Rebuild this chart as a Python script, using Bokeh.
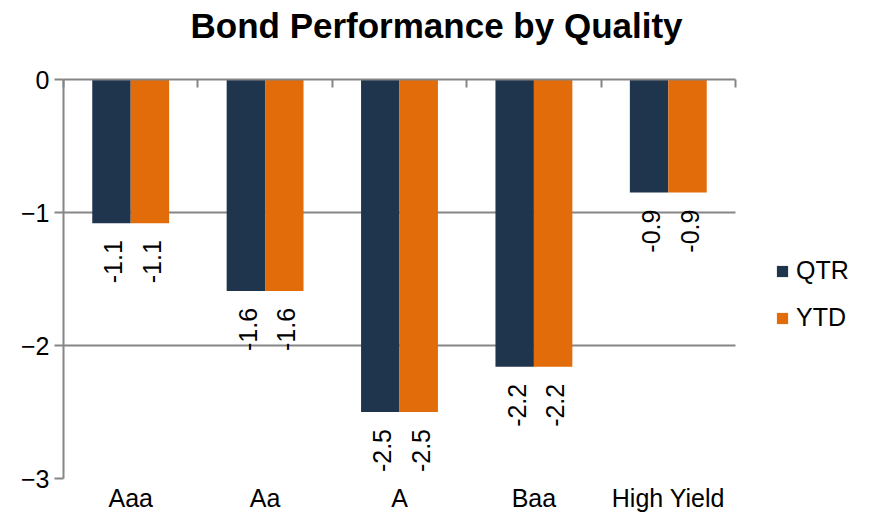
import math
from bokeh.plotting import figure
from bokeh.models import ColumnDataSource, Range1d, LinearAxis, FixedTicker, Legend, LegendItem, Grid
from bokeh.core.properties import value
from bokeh.embed import file_html
from bokeh.resources import INLINE

categories = ["Aaa", "Aa", "A", "Baa", "High Yield"]
qtr = [-1.08, -1.59, -2.50, -2.16, -0.85]
ytd = [-1.08, -1.59, -2.50, -2.16, -0.85]
qtr_labels = ["-1.1", "-1.6", "-2.5", "-2.2", "-0.9"]
ytd_labels = ["-1.1", "-1.6", "-2.5", "-2.2", "-0.9"]
y_ticks = [0, -1, -2, -3]

NAVY = "#1F354D"
ORANGE = "#E36C0A"
GRAY = "#868686"
FONT = "Liberation Sans"
FS = "25px"

W, H = 868, 525
BL, BR, BT, BB = 63, 4, 79, 47
AREA_W = 672  # pixel width of the category area; frame extends right to hold the legend

n = len(categories)
centers = [i + 0.5 for i in range(n)]
edges = list(range(n + 1))
bw = 0.286
x_end = n * (W - BL - BR) / AREA_W

src = ColumnDataSource(dict(xq=[c - bw / 2 for c in centers], xy=[c + bw / 2 for c in centers],
                            qtr=qtr, ytd=ytd, qtr_lbl=qtr_labels, ytd_lbl=ytd_labels))

p = figure(x_range=Range1d(0, x_end), y_range=Range1d(-3, 0),
           width=W, height=H, output_backend="svg", toolbar_location=None,
           min_border_left=BL, min_border_right=BR, min_border_top=BT, min_border_bottom=BB)

p.title.text = "Bond Performance by Quality"
p.title.text_font = FONT
p.title.text_font_size = "35px"
p.title.text_font_style = "bold"
p.title.text_color = "black"
p.title.align = "left"
p.title.offset = 127
p.title.standoff = 6

r_q = p.vbar(x="xq", top=0, bottom="qtr", width=bw, source=src,
             fill_color=NAVY, line_color=None)
r_y = p.vbar(x="xy", top=0, bottom="ytd", width=bw, source=src,
             fill_color=ORANGE, line_color=None)

for xcol, col in (("xq", "qtr"), ("xy", "ytd")):
    p.text(x=xcol, y=col, text=col + "_lbl", source=src,
           angle=math.pi / 2, text_align="right", text_baseline="middle",
           x_offset=2, y_offset=17, text_font=value(FONT), text_font_size=FS,
           text_color="black")

# bottom category labels (default axis)
xa = p.below[0]
xa.ticker = FixedTicker(ticks=centers)
xa.major_label_overrides = {c: name for c, name in zip(centers, categories)}
xa.axis_line_color = None
xa.major_tick_line_color = None
xa.minor_tick_line_color = None
xa.major_tick_in = 0
xa.major_tick_out = 0
xa.major_label_standoff = 5
xa.major_label_text_font = FONT
xa.major_label_text_font_size = FS
xa.major_label_text_color = "black"

# top axis line at zero with ticks between categories (blank axis label keeps title spacing)
top = LinearAxis(ticker=FixedTicker(ticks=edges), bounds=(0, n))
top.axis_line_color = GRAY
top.axis_line_width = 2
top.major_tick_line_color = GRAY
top.major_tick_line_width = 2
top.major_tick_in = 8
top.major_tick_out = 0
top.minor_tick_line_color = None
top.major_label_text_font_size = "1px"
top.major_label_text_alpha = 0
top.major_label_standoff = 0
top.axis_label = " "
top.axis_label_text_font = FONT
top.axis_label_text_font_size = "20px"
top.axis_label_standoff = 7
p.add_layout(top, "above")

ya = p.left[0]
ya.ticker = FixedTicker(ticks=y_ticks)
ya.axis_line_color = GRAY
ya.axis_line_width = 2
ya.major_tick_line_color = GRAY
ya.major_tick_line_width = 2
ya.major_tick_out = 9
ya.major_tick_in = 0
ya.minor_tick_line_color = None
ya.major_label_standoff = 5
ya.major_label_text_font = FONT
ya.major_label_text_font_size = FS
ya.major_label_text_color = "black"

p.xgrid.grid_line_color = None
if "cross_bounds" in Grid.properties():
    p.ygrid.ticker = FixedTicker(ticks=y_ticks)
    p.ygrid.cross_bounds = (0, n)
    p.ygrid.grid_line_color = GRAY
    p.ygrid.grid_line_width = 2
else:
    p.ygrid.grid_line_color = None
    p.segment(x0=[0] * len(y_ticks), x1=[n] * len(y_ticks), y0=y_ticks, y1=y_ticks,
              line_color=GRAY, line_width=2, level="underlay")
p.outline_line_color = None

lg = Legend(items=[LegendItem(label="QTR", renderers=[r_q]),
                   LegendItem(label="YTD", renderers=[r_y])])
lg.location = (712, 146)
lg.orientation = "vertical"
lg.border_line_color = None
lg.background_fill_alpha = 0
lg.padding = 0
lg.margin = 0
lg.glyph_width = 14
lg.glyph_height = 14
lg.label_standoff = 7
lg.label_height = 25
lg.spacing = 18
lg.label_text_font = FONT
lg.label_text_font_size = FS
lg.label_text_color = "black"
p.add_layout(lg, "center")

open("out.html", "w").write(file_html(p, INLINE))
